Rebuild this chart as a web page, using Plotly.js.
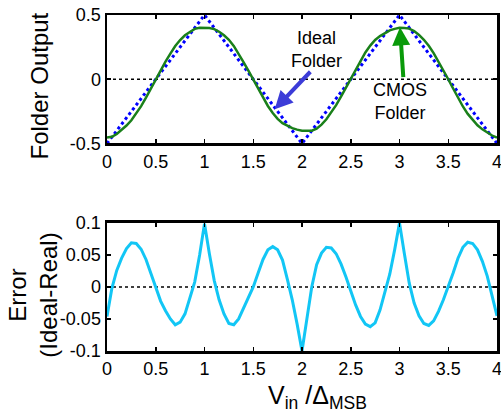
<!DOCTYPE html>
<html>
<head>
<meta charset="utf-8">
<script src="https://cdn.plot.ly/plotly-3.0.1.min.js"></script>
<style>html,body{margin:0;padding:0;background:#fff;}#chart{width:501px;height:417px;}</style>
</head>
<body>
<div id="chart"></div>
<script>
// ---- data ----
var idealX = [0, 1, 2, 3, 4];
var idealY = [-0.5, 0.5, -0.5, 0.5, -0.5];

var vin = [0.00,0.05,0.10,0.15,0.20,0.25,0.30,0.35,0.40,0.45,
           0.50,0.55,0.60,0.65,0.70,0.75,0.80,0.85,0.90,0.95,
           1.00,1.05,1.10,1.15,1.20,1.25,1.30,1.35,1.40,1.45,
           1.50,1.55,1.60,1.65,1.70,1.75,1.80,1.85,1.90,1.95,
           2.00,2.05,2.10,2.15,2.20,2.25,2.30,2.35,2.40,2.45,
           2.50,2.55,2.60,2.65,2.70,2.75,2.80,2.85,2.90,2.95,
           3.00,3.05,3.10,3.15,3.20,3.25,3.30,3.35,3.40,3.45,
           3.50,3.55,3.60,3.65,3.70,3.75,3.80,3.85,3.90,3.95,4.00];

var cmosY = [-0.454,-0.448,-0.426,-0.395,-0.360,-0.319,-0.268,-0.209,-0.143,-0.072,
              0.002, 0.072, 0.137, 0.200, 0.259, 0.305, 0.342, 0.368, 0.392, 0.400,
              0.401, 0.398, 0.390, 0.370, 0.342, 0.307, 0.259, 0.200, 0.134, 0.068,
              0.000,-0.072,-0.143,-0.208,-0.263,-0.308,-0.342,-0.362,-0.380,-0.392,
             -0.400,-0.400,-0.400,-0.385,-0.353,-0.312,-0.261,-0.202,-0.136,-0.066,
              0.006, 0.078, 0.146, 0.208, 0.262, 0.306, 0.336, 0.360, 0.380, 0.392,
              0.400, 0.398, 0.394, 0.375, 0.345, 0.307, 0.260, 0.203, 0.138, 0.070,
              0.000,-0.072,-0.145,-0.212,-0.270,-0.318,-0.358,-0.390,-0.417,-0.438,-0.455];

var errY = [-0.046,-0.002, 0.026, 0.045, 0.060, 0.069, 0.068, 0.059, 0.043, 0.022,
            -0.002,-0.022,-0.037,-0.050,-0.059,-0.055,-0.042,-0.018, 0.008, 0.050,
             0.099, 0.052, 0.010,-0.020,-0.042,-0.057,-0.059,-0.050,-0.034,-0.018,
             0.000, 0.022, 0.043, 0.058, 0.063, 0.058, 0.042, 0.012,-0.020,-0.058,
            -0.100,-0.050, 0.000, 0.035, 0.053, 0.062, 0.061, 0.052, 0.036, 0.016,
            -0.006,-0.028,-0.046,-0.058,-0.062,-0.056,-0.036,-0.010, 0.020, 0.058,
             0.100, 0.052, 0.006,-0.025,-0.045,-0.057,-0.060,-0.053,-0.038,-0.020,
             0.000, 0.022, 0.045, 0.062, 0.070, 0.068, 0.058, 0.040, 0.017,-0.012,-0.045];

var xTicks = [0, 0.5, 1, 1.5, 2, 2.5, 3, 3.5, 4];
var xTickText = ['0','0.5','1','1.5','2','2.5','3','3.5','4'];
var yTopTicks = [-0.5, 0, 0.5];
var yTopText = ['-0.5','0','0.5'];
var yBotTicks = [-0.1, -0.05, 0, 0.05, 0.1];
var yBotText = ['-0.1','-0.05','0','0.05','0.1'];

// ---- chart ----
var FONT = 'Liberation Sans, Arial, sans-serif';

var traces = [
  {x: idealX, y: idealY, xaxis: 'x', yaxis: 'y', mode: 'lines', name: 'Ideal Folder',
   line: {color: '#0000ff', width: 3, dash: 'dot'}},
  {x: vin, y: cmosY, xaxis: 'x', yaxis: 'y', mode: 'lines', name: 'CMOS Folder',
   line: {color: '#1a801a', width: 2.5}},
  {x: vin, y: errY, xaxis: 'x2', yaxis: 'y2', mode: 'lines', name: 'Error',
   line: {color: '#12c6f5', width: 3}}
];

function xAxis(anchor) {
  return {anchor: anchor, domain: [0, 1], range: [0, 4], tickvals: xTicks, ticktext: xTickText,
    showline: true, linewidth: 2.5, linecolor: '#000', mirror: 'ticks',
    ticks: 'inside', ticklen: 4, tickwidth: 1.5, tickcolor: '#000',
    showgrid: false, zeroline: false, fixedrange: true, ticklabeloverflow: 'allow',
    tickfont: {family: FONT, size: 18, color: '#000'}};
}
function yAxis(anchor, dom, range, tv, tt) {
  return {anchor: anchor, domain: dom, range: range, tickvals: tv, ticktext: tt,
    showline: true, linewidth: 2.5, linecolor: '#000', mirror: 'ticks',
    ticks: 'inside', ticklen: 4, tickwidth: 1.5, tickcolor: '#000',
    showgrid: false, zeroline: false, fixedrange: true, ticklabeloverflow: 'allow',
    tickfont: {family: FONT, size: 18, color: '#000'}};
}

var layout = {
  width: 501, height: 417,
  margin: {l: 107, r: 4, t: 15, b: 66},
  paper_bgcolor: '#fff', plot_bgcolor: '#fff',
  showlegend: false,
  font: {family: FONT, color: '#000'},
  xaxis: xAxis('y'),
  yaxis: yAxis('x', [0.6176, 1], [-0.5, 0.5], yTopTicks, yTopText),
  xaxis2: xAxis('y2'),
  yaxis2: yAxis('x2', [0, 0.381], [-0.1, 0.1], yBotTicks, yBotText),
  shapes: [
    {type: 'line', xref: 'x', yref: 'y', x0: 0, x1: 4, y0: 0, y1: 0,
     line: {color: '#000', width: 1.5, dash: 'dot'}, layer: 'below'},
    {type: 'line', xref: 'x2', yref: 'y2', x0: 0, x1: 4, y0: 0, y1: 0,
     line: {color: '#000', width: 1.5, dash: 'dot'}, layer: 'below'}
  ],
  annotations: [
    {xref: 'paper', yref: 'paper', x: -0.172, y: 0.79, text: 'Folder Output', textangle: -90,
     showarrow: false, xanchor: 'center', yanchor: 'middle', font: {family: FONT, size: 24}},
    {xref: 'paper', yref: 'paper', x: -0.192, y: 0.165, text: 'Error<br>(Ideal-Real)', textangle: -90,
     showarrow: false, xanchor: 'center', yanchor: 'middle', font: {family: FONT, size: 24}},
    {xref: 'paper', yref: 'paper', x: 0.541, y: -0.137, text: 'V<sub>in</sub> /Δ<sub>MSB</sub>',
     showarrow: false, xanchor: 'center', yanchor: 'middle', font: {family: FONT, size: 25}},
    {xref: 'x', yref: 'y', x: 2.149, y: 0.232, text: 'Ideal<br>Folder', showarrow: false,
     font: {family: FONT, size: 18}},
    {xref: 'x', yref: 'y', x: 3.0, y: -0.174, text: 'CMOS<br>Folder', showarrow: false,
     font: {family: FONT, size: 18}},
    {xref: 'x', yref: 'y', x: 1.72, y: -0.234, axref: 'x', ayref: 'y', ax: 2.10, ay: 0.07,
     text: '', showarrow: true, arrowhead: 2, arrowsize: 0.9, arrowwidth: 4, arrowcolor: '#3c3cd8'},
    {xref: 'x', yref: 'y', x: 3.005, y: 0.404, axref: 'x', ayref: 'y', ax: 3.04, ay: 0.005,
     text: '', showarrow: true, arrowhead: 2, arrowsize: 0.9, arrowwidth: 4, arrowcolor: '#0a9a0a'}
  ]
};

Plotly.newPlot('chart', traces, layout, {displayModeBar: false, staticPlot: true});
</script>
</body>
</html>
